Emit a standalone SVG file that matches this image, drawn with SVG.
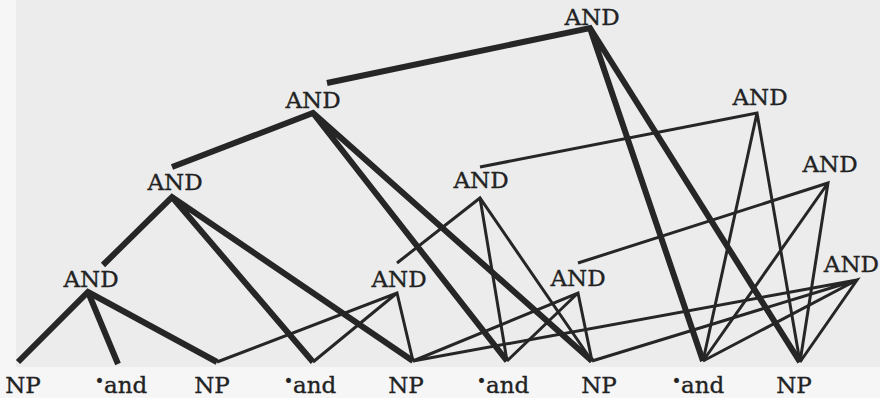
<svg xmlns="http://www.w3.org/2000/svg" width="880" height="398" viewBox="0 0 880 398">
<style>
.lbl{font-family:"DejaVu Serif","Liberation Serif",serif;font-size:23px;fill:#222;stroke:#222;stroke-width:0.35;text-anchor:middle}
.e{fill:none;stroke:#262626;stroke-linejoin:miter;stroke-linecap:butt;stroke-miterlimit:10}
.thick{stroke-width:6}
.thin{stroke-width:3}
.dot{font-size:16px}
</style>
<rect x="0" y="0" width="880" height="398" fill="#f6f6f6"/>
<rect x="16" y="0" width="864" height="367" fill="#ececec"/>
<g id="edges">
  <g id="thick-edges" class="e thick">
    <path d="M327,83 L590,28 L800,362 M590,28 L703,361"/>
    <path d="M172,167 L313,113 L592,361 M313,113 L507,361"/>
    <path d="M103,265 L172,197 L413,361 M172,197 L313,362"/>
    <path d="M18,362 L88,292 L217,362 M88,292 L118,364"/>
  </g>
  <g id="thin-edges" class="e thin">
    <path d="M217,362 L397,293 L413,361 M397,293 L313,362"/>
    <path d="M397,263 L480,198 L592,361 M480,198 L507,361"/>
    <path d="M413,361 L578,293 L592,361 M578,293 L507,361"/>
    <path d="M480,167 L757,113 L800,362 M757,113 L703,361"/>
    <path d="M578,263 L828,183 L800,362 M828,183 L703,361"/>
    <path d="M592,361 L857,280 L800,362 M857,280 L703,361 M857,280 L413,361"/>
  </g>
</g>
<g id="and-1-5"><text class="lbl" x="592" y="25">AND</text></g>
<g id="and-1-4"><text class="lbl" x="313" y="108">AND</text></g>
<g id="and-1-3"><text class="lbl" x="175" y="190">AND</text></g>
<g id="and-1-2"><text class="lbl" x="91" y="287">AND</text></g>
<g id="and-2-3"><text class="lbl" x="399" y="287">AND</text></g>
<g id="and-2-4"><text class="lbl" x="481" y="188">AND</text></g>
<g id="and-3-4"><text class="lbl" x="578" y="286">AND</text></g>
<g id="and-2-5"><text class="lbl" x="760" y="105">AND</text></g>
<g id="and-3-5"><text class="lbl" x="830" y="172">AND</text></g>
<g id="and-4-5"><text class="lbl" x="879" y="272" style="text-anchor:end">AND</text></g>
<g id="np1"><text class="lbl" x="23" y="393">NP</text></g>
<g id="and1"><text class="lbl" x="121" y="393"><tspan class="dot" dy="-6">•</tspan><tspan dy="6">and</tspan></text></g>
<g id="np2"><text class="lbl" x="212" y="393">NP</text></g>
<g id="and2"><text class="lbl" x="310" y="393"><tspan class="dot" dy="-6">•</tspan><tspan dy="6">and</tspan></text></g>
<g id="np3"><text class="lbl" x="406" y="393">NP</text></g>
<g id="and3"><text class="lbl" x="503" y="393"><tspan class="dot" dy="-6">•</tspan><tspan dy="6">and</tspan></text></g>
<g id="np4"><text class="lbl" x="599" y="393">NP</text></g>
<g id="and4"><text class="lbl" x="698" y="393"><tspan class="dot" dy="-6">•</tspan><tspan dy="6">and</tspan></text></g>
<g id="np5"><text class="lbl" x="794" y="393">NP</text></g>
</svg>
